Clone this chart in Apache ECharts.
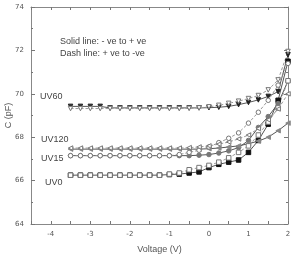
<!DOCTYPE html>
<html>
<meta charset="UTF-8">
<title>cv-curves</title>
<style type="text/css">
    html,
    body {
        margin: 0px;
        height: 100%;
        width: 100%;
        background: #fff;
    }

    #chart {
        width: 292px;
        height: 254px;
    }
</style>
<script src="https://cdn.jsdelivr.net/npm/echarts@6/dist/echarts.min.js"></script>

<body>
    <div id="chart"></div>
    <script>
        // bias sweep points (V)
        const volts = [-3.5, -3.25, -3, -2.75, -2.5, -2.25, -2, -1.75, -1.5, -1.25,
            -1, -0.75, -0.5, -0.25, 0, 0.25, 0.5, 0.75, 1, 1.25, 1.5, 1.75, 2];

        // capacitance (pF), solid = -ve to +ve, dash = +ve to -ve
        const uv60Solid = [69.42, 69.42, 69.42, 69.42, 69.35, 69.35, 69.35, 69.35, 69.35, 69.35,
            69.35, 69.35, 69.35, 69.35, 69.36, 69.38, 69.42, 69.5, 69.6, 69.72, 69.88, 70.1, 71.8];
        const uv60Dash = [69.32, 69.32, 69.32, 69.32, 69.32, 69.32, 69.32, 69.32, 69.32, 69.32,
            69.32, 69.32, 69.33, 69.35, 69.4, 69.47, 69.56, 69.66, 69.78, 69.92, 70.18, 70.64, 71.95];
        const uv120Solid = [67.45, 67.45, 67.45, 67.45, 67.45, 67.45, 67.45, 67.45, 67.45, 67.45,
            67.45, 67.45, 67.45, 67.45, 67.47, 67.5, 67.55, 67.6, 67.7, 67.82, 68.0, 68.3, 68.65];
        const uv120Dash = [67.5, 67.5, 67.5, 67.5, 67.5, 67.5, 67.5, 67.5, 67.5, 67.5,
            67.5, 67.5, 67.52, 67.55, 67.6, 67.68, 67.78, 67.92, 68.1, 68.4, 68.8, 69.3, 70.0];
        const uv15Solid = [67.15, 67.15, 67.15, 67.15, 67.15, 67.15, 67.15, 67.15, 67.15, 67.15,
            67.15, 67.15, 67.15, 67.17, 67.2, 67.27, 67.37, 67.52, 67.85, 68.45, 68.95, 69.55, 70.6];
        const uv15Dash = [67.15, 67.15, 67.15, 67.15, 67.15, 67.15, 67.15, 67.15, 67.15, 67.15,
            67.15, 67.2, 67.3, 67.4, 67.55, 67.75, 67.95, 68.2, 68.65, 69.15, 69.7, 70.4, 71.4];
        const uv0Solid = [66.25, 66.25, 66.25, 66.25, 66.25, 66.25, 66.25, 66.25, 66.25, 66.25,
            66.28, 66.3, 66.35, 66.4, 66.6, 66.75, 66.85, 66.95, 67.3, 67.85, 68.6, 69.7, 71.5];
        const uv0Dash = [66.25, 66.25, 66.25, 66.25, 66.25, 66.25, 66.25, 66.25, 66.25, 66.25,
            66.3, 66.35, 66.5, 66.6, 66.7, 66.85, 67.05, 67.3, 67.6, 68.1, 68.7, 69.35, 70.6];

        const xTicks = [-4, -3, -2, -1, 0, 1, 2];

        const pairs = (ys) => volts.map((v, i) => [v, ys[i]]);

        const solid = (data, symbol, rot, fill) => ({
            type: 'line',
            data: pairs(data),
            symbol: symbol,
            symbolRotate: rot,
            symbolSize: 4.5,
            lineStyle: { color: '#555', width: 1 },
            itemStyle: { color: fill, borderColor: fill, borderWidth: 1 },
            animation: false
        });
        const dash = (data, symbol, rot) => ({
            type: 'line',
            data: pairs(data),
            symbol: symbol,
            symbolRotate: rot,
            symbolSize: 4.5,
            lineStyle: { color: '#999', width: 1, type: [3, 2] },
            itemStyle: { color: '#fff', borderColor: '#777', borderWidth: 1 },
            animation: false
        });

        const tickLabel = { fontSize: 7, color: '#555', fontFamily: 'DejaVu Sans' };
        const axisLine = { onZero: false, lineStyle: { color: '#888', width: 1 } };

        const xAxisBase = {
            type: 'value',
            min: -4.5,
            max: 2,
            interval: 0.5,
            axisLine: axisLine,
            axisTick: { inside: true, length: 3, lineStyle: { color: '#777' } },
            splitLine: { show: false }
        };
        const yAxisBase = {
            type: 'value',
            min: 64,
            max: 74,
            interval: 2,
            axisLine: axisLine,
            axisTick: { inside: true, length: 4, lineStyle: { color: '#777' } },
            minorTick: { show: true, splitNumber: 2, length: 2, lineStyle: { color: '#777' } },
            splitLine: { show: false }
        };

        const chart = echarts.init(document.querySelector('#chart'));
        const options = {
            backgroundColor: '#fff',
            grid: { left: 31, right: 4, top: 7, bottom: 30, outerBoundsMode: 'none' },
            xAxis: [
                Object.assign({}, xAxisBase, {
                    position: 'bottom',
                    name: 'Voltage (V)',
                    nameLocation: 'middle',
                    nameGap: 21,
                    nameTextStyle: { fontSize: 9, color: '#555', fontFamily: 'Liberation Sans' },
                    axisLabel: Object.assign({}, tickLabel, {
                        margin: 7,
                        formatter: (v) => xTicks.indexOf(v) >= 0 ? String(v) : ''
                    })
                }),
                Object.assign({}, xAxisBase, { position: 'top', axisLabel: { show: false } })
            ],
            yAxis: [
                Object.assign({}, yAxisBase, {
                    position: 'left',
                    name: 'C (pF)',
                    nameLocation: 'middle',
                    nameGap: 18,
                    nameMoveOverlap: false,
                    nameTextStyle: { fontSize: 9, color: '#555', fontFamily: 'Liberation Sans' },
                    axisLabel: Object.assign({}, tickLabel, { margin: 7 })
                }),
                Object.assign({}, yAxisBase, { position: 'right', axisLabel: { show: false } })
            ],
            graphic: [
                { type: 'text', left: 60, top: 37, style: { text: 'Solid line: - ve to + ve', fontSize: 9, fill: '#444', fontFamily: 'Liberation Sans' } },
                { type: 'text', left: 60, top: 49, style: { text: 'Dash line: + ve to -ve', fontSize: 9, fill: '#444', fontFamily: 'Liberation Sans' } },
                { type: 'text', left: 40, top: 92, style: { text: 'UV60', fontSize: 9, fill: '#444', fontFamily: 'Liberation Sans' } },
                { type: 'text', left: 41, top: 135, style: { text: 'UV120', fontSize: 9, fill: '#444', fontFamily: 'Liberation Sans' } },
                { type: 'text', left: 41, top: 154, style: { text: 'UV15', fontSize: 9, fill: '#444', fontFamily: 'Liberation Sans' } },
                { type: 'text', left: 45, top: 178, style: { text: 'UV0', fontSize: 9, fill: '#444', fontFamily: 'Liberation Sans' } }
            ],
            series: [
                solid(uv0Solid, 'rect', 0, '#111'),
                solid(uv15Solid, 'circle', 0, '#777'),
                solid(uv120Solid, 'triangle', 90, '#888'),
                solid(uv60Solid, 'triangle', 180, '#222'),
                dash(uv0Dash, 'rect', 0),
                dash(uv15Dash, 'circle', 0),
                dash(uv120Dash, 'triangle', 90),
                dash(uv60Dash, 'triangle', 180)
            ]
        };
        chart.setOption(options);
    </script>
</body>

</html>
